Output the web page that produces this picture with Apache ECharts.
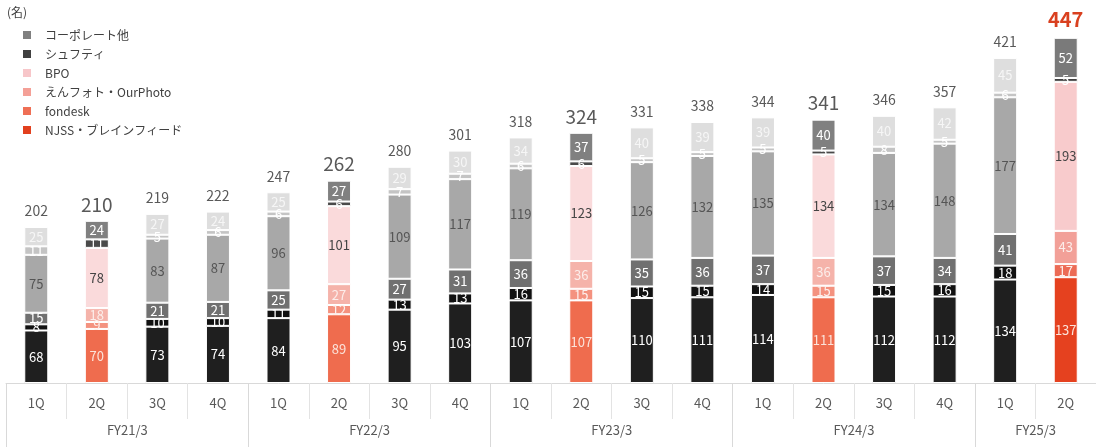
<!DOCTYPE html>
<html lang="ja">
<head>
<meta charset="utf-8">
<title>従業員数推移</title>
<script src="https://cdn.jsdelivr.net/npm/echarts@6/dist/echarts.min.js"></script>
<style>
  html, body { margin: 0; padding: 0; background: #fff; }
  #chart { width: 1096px; height: 447px; }
</style>
</head>
<body>
<div id="chart"></div>
<script>
// Quarter labels and the fiscal year each bar belongs to
const quarterLabels = ['1Q','2Q','3Q','4Q','1Q','2Q','3Q','4Q','1Q','2Q','3Q','4Q','1Q','2Q','3Q','4Q','1Q','2Q'];
const fiscalYearOfBar = ['FY21/3','FY21/3','FY21/3','FY21/3','FY22/3','FY22/3','FY22/3','FY22/3',
  'FY23/3','FY23/3','FY23/3','FY23/3','FY24/3','FY24/3','FY24/3','FY24/3','FY25/3','FY25/3'];

// Headcount by business (名), stacked bottom to top
const njss      = [68, 70, 73, 74, 84, 89, 95, 103, 107, 107, 110, 111, 114, 111, 112, 112, 134, 137];
const fondesk   = [8, 9, 10, 10, 11, 12, 13, 13, 16, 15, 15, 15, 14, 15, 15, 16, 18, 17];
const enphoto   = [15, 18, 21, 21, 25, 27, 27, 31, 36, 36, 35, 36, 37, 36, 37, 34, 41, 43];
const bpo       = [75, 78, 83, 87, 96, 101, 109, 117, 119, 123, 126, 132, 135, 134, 134, 148, 177, 193];
const shufti    = [11, 11, 5, 6, 6, 6, 7, 7, 6, 6, 5, 5, 5, 5, 8, 5, 6, 5];
const corporate = [25, 24, 27, 24, 25, 27, 29, 30, 34, 37, 40, 39, 39, 40, 40, 42, 45, 52];

// Legend order (top to bottom)
const legendOrder = ['コーポレート他', 'シュフティ', 'BPO', 'えんフォト・OurPhoto', 'fondesk', 'NJSS・ブレインフィード'];

const FONT = '"Noto Sans CJK JP", "Noto Sans", sans-serif';
const lastIdx = quarterLabels.length - 1;
const isSecondQ = i => quarterLabels[i] === '2Q';

// Colour sets: legend, other quarters, earlier 2Q, latest 2Q, plus label colours
const palette = [
  { name: 'NJSS・ブレインフィード', values: njss,
    legend: '#E2401E', plain: '#1F1F1F', past: '#EF6C4E', latest: '#E5411F',
    lblPlain: '#ffffff', lblPast: '#FBE3DA', lblLatest: '#FBE3DA' },
  { name: 'fondesk', values: fondesk,
    legend: '#EF6F55', plain: '#111111', past: '#F4927F', latest: '#EC6B55',
    lblPlain: '#ffffff', lblPast: '#FDF0EC', lblLatest: '#FDF0EC' },
  { name: 'えんフォト・OurPhoto', values: enphoto,
    legend: '#F4A097', plain: '#707070', past: '#F5B3AA', latest: '#F2A098',
    lblPlain: '#ffffff', lblPast: '#FCEDEA', lblLatest: '#FCEDEA' },
  { name: 'BPO', values: bpo,
    legend: '#F7C6C9', plain: '#A8A8A8', past: '#FADADB', latest: '#F8CBCC',
    lblPlain: '#555555', lblPast: '#444444', lblLatest: '#444444' },
  { name: 'シュフティ', values: shufti,
    legend: '#404040', plain: '#C4C4C4', past: '#4A4A4A', latest: '#404040',
    lblPlain: '#ffffff', lblPast: '#ffffff', lblLatest: '#ffffff' },
  { name: 'コーポレート他', values: corporate,
    legend: '#808080', plain: '#DEDEDE', past: '#808080', latest: '#7A7A7A',
    lblPlain: '#F6F6F6', lblPast: '#ffffff', lblLatest: '#ffffff' }
];

const stackSeries = palette.map(p => ({
  name: p.name,
  type: 'bar',
  stack: 'headcount',
  barWidth: 24,
  barGap: '-100%',
  itemStyle: { color: p.legend, borderColor: '#ffffff', borderWidth: 1 },
  label: { show: true, position: 'inside', fontFamily: FONT, fontSize: 13 },
  data: p.values.map((v, i) => {
    let fill = p.plain, txt = p.lblPlain;
    if (i === lastIdx) { fill = p.latest; txt = p.lblLatest; }
    else if (isSecondQ(i)) { fill = p.past; txt = p.lblPast; }
    return { value: v, itemStyle: { color: fill }, label: { color: txt } };
  })
}));

// Totals shown above each stack
const totals = quarterLabels.map((_, i) => palette.reduce((s, p) => s + p.values[i], 0));
const totalSeries = {
  name: '合計',
  type: 'bar',
  barWidth: 24,
  barGap: '-100%',
  z: 1,
  silent: true,
  itemStyle: { color: 'rgba(0,0,0,0)' },
  data: totals.map((v, i) => {
    let lbl = { fontSize: 14, color: '#595959', distance: 9 };
    if (i === lastIdx) lbl = { fontSize: 20, color: '#D9401F', fontWeight: 'bold', distance: 8 };
    else if (isSecondQ(i)) lbl = { fontSize: 19, color: '#595959', distance: 7 };
    return { value: v, label: Object.assign({ show: true, position: 'top', fontFamily: FONT }, lbl) };
  })
};

// First bar index of every fiscal year (where its separator starts)
const yearStart = i => i === 0 || fiscalYearOfBar[i] !== fiscalYearOfBar[i - 1];
// Bar right of which the year label is centred
const yearLabelAt = i => {
  const first = fiscalYearOfBar.indexOf(fiscalYearOfBar[i]);
  const count = fiscalYearOfBar.filter(y => y === fiscalYearOfBar[i]).length;
  return i === first + count / 2 - 1;
};

const chart = echarts.init(document.getElementById('chart'), null, { renderer: 'canvas' });
chart.setOption({
  animation: false,
  backgroundColor: '#ffffff',
  textStyle: { fontFamily: FONT },
  graphic: [{
    type: 'text', left: 7, top: 6,
    style: { text: '(名)', fontFamily: FONT, fontSize: 12, fill: '#404040' }
  }],
  legend: {
    orient: 'vertical',
    left: 16, top: 23,
    itemWidth: 10, itemHeight: 10,
    itemGap: 5,
    icon: 'rect',
    data: legendOrder,
    textStyle: { fontFamily: FONT, fontSize: 12, color: '#404040', padding: [0, 0, 0, 8], lineHeight: 14 }
  },
  grid: { left: 6, right: -4, top: 0, bottom: 64, containLabel: false },
  xAxis: [
    {
      type: 'category',
      data: quarterLabels,
      position: 'bottom',
      axisLine: { show: true, lineStyle: { color: '#D9D9D9', width: 1 } },
      axisTick: { show: true, interval: 0, length: 36, lineStyle: { color: '#E3E3E3' } },
      axisLabel: { interval: 0, margin: 14, fontFamily: FONT, fontSize: 13, color: '#595959' }
    },
    {
      type: 'category',
      data: quarterLabels,
      position: 'bottom',
      axisLine: { show: false },
      axisTick: { show: true, interval: (i) => yearStart(i), length: 64, lineStyle: { color: '#D9D9D9' } },
      axisLabel: {
        interval: (i) => yearLabelAt(i),
        formatter: (v, i) => fiscalYearOfBar[i],
        margin: 41, padding: [0, 0, 0, 61],
        fontFamily: FONT, fontSize: 13, color: '#595959'
      }
    }
  ],
  yAxis: { type: 'value', min: 0, max: 496, show: false, splitLine: { show: false } },
  series: stackSeries.concat([totalSeries])
});
</script>
</body>
</html>
